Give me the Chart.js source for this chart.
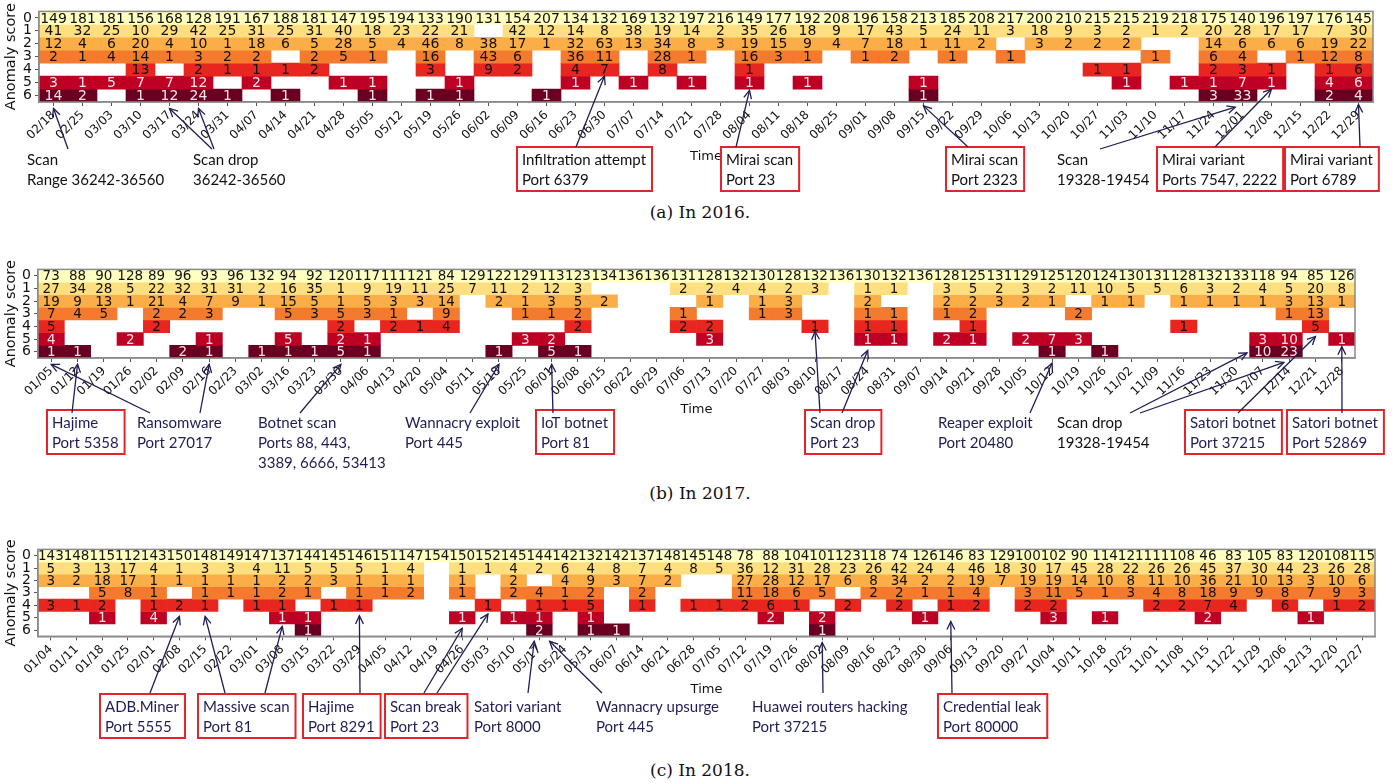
<!DOCTYPE html>
<html>
<head>
<meta charset="utf-8">
<script src="https://cdn.jsdelivr.net/npm/chart.js@4.4.0/dist/chart.umd.min.js"></script>
<style>
  body { margin: 0; background: #fff; width: 1400px; height: 784px; position: relative; overflow: hidden; }
  canvas { position: absolute; left: 0; }
  .cap { position: absolute; left: 0; width: 1400px; text-align: center; font: 17px "DejaVu Serif", serif; color: #111; line-height: 20px; }
</style>
</head>
<body>
<canvas id="c2016" width="1400" height="200" style="top:0px"></canvas>
<div class="cap" style="top:202px">(a) In 2016.</div>
<canvas id="c2017" width="1400" height="215" style="top:258px"></canvas>
<div class="cap" style="top:483px">(b) In 2017.</div>
<canvas id="c2018" width="1400" height="205" style="top:538px"></canvas>
<div class="cap" style="top:760px">(c) In 2018.</div>

<script>
const _ = null

// ---- 2016 ----
const weeks2016 = ["02/18","02/25","03/03","03/10","03/17","03/24","03/31","04/07","04/14","04/21","04/28","05/05","05/12","05/19","05/26","06/02","06/09","06/16","06/23","06/30","07/07","07/14","07/21","07/28","08/04","08/11","08/18","08/25","09/01","09/08","09/15","09/22","09/29","10/06","10/13","10/20","10/27","11/03","11/10","11/17","11/24","12/01","12/08","12/15","12/22","12/29"]
const y16s0 = [149,181,181,156,168,128,191,167,188,181,147,195,194,133,190,131,154,207,134,132,169,132,197,216,149,177,192,208,196,158,213,185,208,217,200,210,215,215,219,218,175,140,196,197,176,145]
const y16s1 = [41,32,25,10,29,42,25,31,25,31,40,18,23,22,21,_,42,12,14,8,38,19,14,2,35,26,18,9,17,43,5,24,11,3,18,9,3,2,1,2,20,28,17,17,7,30]
const y16s2 = [12,4,6,20,4,10,1,18,6,5,28,5,4,46,8,38,17,1,32,63,13,34,8,3,19,15,9,4,7,18,1,11,2,_,3,2,2,2,_,_,14,6,6,6,19,22]
const y16s3 = [2,1,4,14,1,3,2,2,_,2,5,1,_,16,_,43,6,_,36,11,_,28,1,_,16,3,1,_,1,2,_,1,_,1,_,_,_,_,1,_,6,4,_,1,12,8]
const y16s4 = [_,_,_,13,_,2,1,1,1,2,_,_,_,3,_,9,2,_,4,7,_,8,_,_,1,_,_,_,_,_,_,_,_,_,_,_,1,1,_,_,2,3,1,_,1,6]
const y16s5 = [3,1,5,7,7,12,_,2,_,_,1,1,_,_,1,_,_,_,1,_,1,_,1,_,1,_,1,_,_,_,1,_,_,_,_,_,_,1,_,1,1,7,1,_,4,6]
const y16s6 = [14,2,_,1,12,24,1,_,1,_,_,1,_,1,1,_,_,1,_,_,_,_,_,_,_,_,_,_,_,_,1,_,_,_,_,_,_,_,_,_,3,33,_,_,2,4]

// ---- 2017 ----
const weeks2017 = ["01/05","01/12","01/19","01/26","02/02","02/09","02/16","02/23","03/02","03/16","03/23","03/30","04/06","04/13","04/20","05/04","05/11","05/18","05/25","06/01","06/08","06/15","06/22","06/29","07/06","07/13","07/20","07/27","08/03","08/10","08/17","08/24","08/31","09/07","09/14","09/21","09/28","10/05","10/12","10/19","10/26","11/02","11/09","11/16","11/23","11/30","12/07","12/14","12/21","12/28"]
const y17s0 = [73,88,90,128,89,96,93,96,132,94,92,120,117,111,121,84,129,122,129,113,123,134,136,136,131,128,132,130,128,132,136,130,132,136,128,125,131,129,125,120,124,130,131,128,132,133,118,94,85,126]
const y17s1 = [27,34,28,5,22,32,31,31,2,16,35,1,9,19,11,25,7,11,2,12,3,_,_,_,2,2,4,4,2,3,_,1,1,_,3,5,2,3,2,11,10,5,5,6,3,2,4,5,20,8]
const y17s2 = [19,9,13,1,21,4,7,9,1,15,5,1,5,3,3,14,_,2,1,3,5,2,_,_,_,1,_,1,3,_,_,2,_,_,2,2,3,2,1,_,1,1,_,1,1,1,1,3,13,1]
const y17s3 = [7,4,5,_,2,2,3,_,_,5,3,5,3,1,_,9,_,_,1,1,2,_,_,_,1,_,_,1,3,_,_,1,1,_,1,2,_,_,_,2,_,_,_,_,_,_,_,1,13,_]
const y17s4 = [5,_,_,_,2,_,_,_,_,_,_,2,_,2,1,4,_,_,_,_,2,_,_,_,2,2,_,_,_,1,_,1,1,_,_,1,_,_,_,_,_,_,_,1,_,_,_,_,5,_]
const y17s5 = [4,_,_,2,_,_,1,_,_,5,_,2,1,_,_,_,_,_,3,2,_,_,_,_,_,3,_,_,_,_,_,1,1,_,2,1,_,2,7,3,_,_,_,_,_,_,3,10,_,1]
const y17s6 = [1,1,_,_,_,2,1,_,1,1,1,5,1,_,_,_,_,1,_,5,1,_,_,_,_,_,_,_,_,_,_,_,_,_,_,_,_,_,1,_,1,_,_,_,_,_,10,23,_,_]

// ---- 2018 ----
const weeks2018 = ["01/04","01/11","01/18","01/25","02/01","02/08","02/15","02/22","03/01","03/08","03/15","03/22","03/29","04/05","04/12","04/19","04/26","05/03","05/10","05/17","05/24","05/31","06/07","06/14","06/21","06/28","07/05","07/12","07/19","07/26","08/02","08/09","08/16","08/23","08/30","09/06","09/13","09/20","09/27","10/04","10/11","10/18","10/25","11/01","11/08","11/15","11/22","11/29","12/06","12/13","12/20","12/27"]
const y18s0 = [143,148,115,112,143,150,148,149,147,137,144,145,146,151,147,154,150,152,145,144,142,132,142,137,148,145,148,78,88,104,101,123,118,74,126,146,83,129,100,102,90,114,121,111,108,46,83,105,83,120,108,115]
const y18s1 = [5,3,13,17,4,1,3,3,4,11,5,5,5,1,4,_,1,1,4,2,6,4,8,7,4,8,5,36,12,31,28,23,26,42,24,4,46,18,30,17,45,28,22,26,26,45,37,30,44,23,26,28]
const y18s2 = [3,2,18,17,1,1,1,1,1,2,2,3,1,1,1,_,1,_,2,_,4,9,3,7,2,_,_,27,28,12,17,6,8,34,2,2,19,7,19,19,14,10,8,11,10,36,21,10,13,3,10,6]
const y18s3 = [_,_,5,8,1,_,1,1,1,2,1,_,1,1,2,_,1,_,2,4,1,2,_,2,_,_,_,11,18,6,5,_,2,2,1,1,4,_,3,11,5,1,3,4,8,18,9,9,8,7,9,3]
const y18s4 = [3,1,2,_,1,2,1,_,1,1,_,1,1,_,_,_,_,1,_,1,1,5,_,1,_,1,1,2,6,1,_,2,_,2,_,1,2,_,2,2,_,_,_,2,2,7,4,_,6,_,1,2]
const y18s5 = [_,_,1,_,4,_,_,_,_,1,1,_,_,_,_,_,1,_,1,1,_,1,_,_,_,_,_,_,2,_,2,_,_,_,1,_,_,_,_,3,_,1,_,_,_,2,_,_,_,1,_,_]
const y18s6 = [_,_,_,_,_,_,_,_,_,_,1,_,_,_,_,_,_,_,_,2,_,1,1,_,_,_,_,_,_,_,1,_,_,_,_,_,_,_,_,_,_,_,_,_,_,_,_,_,_,_,_,_]

const scoreColors = ["#ffffbf", "#fedf80", "#fbad47", "#f47a2d", "#e7271f", "#bd0024", "#6a0021"]
const scoreInk = ["#111", "#111", "#111", "#111", "#111", "#f6e4e8", "#f6e4e8"]
const navy = "#1e1e55"
const black = "#111"
const boxRed = "#e3242b"

Chart.defaults.font.family = "'DejaVu Sans', sans-serif"
Chart.defaults.color = "#111"

function drawArrow(ctx, x0, y0, x1, y1, color) {
  ctx.save()
  ctx.strokeStyle = color
  ctx.lineWidth = 1.3
  ctx.beginPath()
  ctx.moveTo(x0, y0)
  ctx.lineTo(x1, y1)
  ctx.stroke()
  const a = Math.atan2(y1 - y0, x1 - x0)
  ctx.beginPath()
  ctx.moveTo(x1 - 9 * Math.cos(a - 0.45), y1 - 9 * Math.sin(a - 0.45))
  ctx.lineTo(x1, y1)
  ctx.lineTo(x1 - 9 * Math.cos(a + 0.45), y1 - 9 * Math.sin(a + 0.45))
  ctx.stroke()
  ctx.restore()
}

function heatmap(id, weeks, rows, area, timeY, cellFont, notes) {
  const canvas = document.getElementById(id)
  const H = canvas.height
  const XH = 50

  const overlay = {
    id: "overlay",
    afterDatasetsDraw(chart) {
      const { ctx, scales: { x, y } } = chart
      ctx.save()
      ctx.font = cellFont + "px 'DejaVu Sans'"
      ctx.textAlign = "center"
      ctx.textBaseline = "middle"
      rows.forEach((vals, s) => {
        ctx.fillStyle = scoreInk[s]
        vals.forEach((v, i) => {
          if (v == null) return
          ctx.fillText(String(v), x.getPixelForValue(i), y.getPixelForValue(s) + 1)
        })
      })
      ctx.restore()
    },
    afterDraw(chart) {
      const { ctx, chartArea: ca, scales: { x, y } } = chart
      ctx.save()
      ctx.strokeStyle = "#8a8a8a"
      ctx.lineWidth = 1.5
      ctx.strokeRect(ca.left, ca.top, ca.right - ca.left, ca.bottom - ca.top)

      ctx.fillStyle = "#111"
      ctx.font = "14.5px 'DejaVu Sans'"
      ctx.textAlign = "center"
      ctx.textBaseline = "middle"
      ctx.save()
      ctx.translate(11, (ca.top + ca.bottom) / 2)
      ctx.rotate(-Math.PI / 2)
      ctx.fillText("Anomaly score", 0, 0)
      ctx.restore()
      ctx.font = "13px 'DejaVu Sans'"
      ctx.fillText("Time", (ca.left + ca.right) / 2, timeY)

      ctx.font = "15px Lato"
      ctx.textAlign = "left"
      notes.forEach(n => {
        const [tx, ty] = n.at
        ctx.fillStyle = n.color
        let w = 0
        n.text.forEach((line, k) => {
          ctx.fillText(line, tx, ty + k * 20)
          w = Math.max(w, ctx.measureText(line).width)
        })
        if (n.boxed) {
          ctx.strokeStyle = boxRed
          ctx.lineWidth = 2
          ctx.strokeRect(tx - 5, ty - 13, w + 11, 20 * (n.text.length - 1) + 24)
        }
        n.arrows.forEach(a => {
          drawArrow(ctx, a.from[0], a.from[1], x.getPixelForValue(a.to[0]), y.getPixelForValue(a.to[1]), navy)
        })
      })
      ctx.restore()
    }
  }

  return new Chart(canvas.getContext("2d"), {
    type: "bar",
    data: {
      labels: weeks,
      datasets: rows.map((vals, s) => ({
        label: "Score " + s,
        data: vals.map(v => (v == null ? null : [s - 0.5, s + 0.5])),
        backgroundColor: scoreColors[s],
        borderWidth: 0,
        grouped: false,
        barPercentage: 1,
        categoryPercentage: 1
      }))
    },
    options: {
      responsive: false,
      animation: false,
      devicePixelRatio: 1,
      layout: {
        padding: { left: 0, right: 1400 - area.right, top: area.top, bottom: H - area.bottom - XH }
      },
      plugins: { legend: { display: false }, tooltip: { enabled: false } },
      scales: {
        x: {
          type: "category",
          offset: true,
          grid: { display: true, drawOnChartArea: false, offset: false, tickLength: 4, color: "#555" },
          border: { display: true, color: "#8a8a8a", width: 1.5 },
          ticks: { minRotation: 45, maxRotation: 45, autoSkip: false, font: { size: 12 }, color: "#111", padding: 2 },
          afterFit: (s) => { s.height = XH }
        },
        y: {
          type: "linear",
          reverse: true,
          min: -0.5,
          max: 6.5,
          afterBuildTicks: (s) => { s.ticks = [0, 1, 2, 3, 4, 5, 6].map(v => ({ value: v })) },
          grid: { display: true, drawOnChartArea: false, tickLength: 4, color: "#555" },
          border: { display: true, color: "#8a8a8a", width: 1.5 },
          ticks: { autoSkip: false, font: { size: 14 }, color: "#111", padding: 3 },
          afterFit: (s) => { s.width = area.left }
        }
      }
    },
    plugins: [overlay]
  })
}

heatmap("c2016", weeks2016, [y16s0, y16s1, y16s2, y16s3, y16s4, y16s5, y16s6],
  { left: 39, right: 1373, top: 1, bottom: 102 }, 157, 14, [
  { text: ["Scan", "Range 36242-36560"], at: [27, 160], color: black, arrows: [{ from: [68, 149], to: [0, 7.0] }] },
  { text: ["Scan drop", "36242-36560"], at: [193, 160], color: black, arrows: [{ from: [212, 149], to: [4, 7.0] }, { from: [214, 149], to: [5, 7.0] }] },
  { text: ["Infiltration attempt", "Port 6379"], at: [522, 160], color: black, boxed: true, arrows: [{ from: [576, 147], to: [19, 4.5] }] },
  { text: ["Mirai scan", "Port 23"], at: [726, 160], color: black, boxed: true, arrows: [{ from: [736, 147], to: [24, 5.6] }] },
  { text: ["Mirai scan", "Port 2323"], at: [951, 160], color: black, boxed: true, arrows: [{ from: [968, 147], to: [30, 6.8] }] },
  { text: ["Scan", "19328-19454"], at: [1057, 160], color: black, arrows: [{ from: [1100, 149], to: [40.75, 6.9] }] },
  { text: ["Mirai variant", "Ports 7547, 2222"], at: [1162, 160], color: black, boxed: true, arrows: [{ from: [1215, 147], to: [42, 5.5] }] },
  { text: ["Mirai variant", "Port 6789"], at: [1290, 160], color: black, boxed: true, arrows: [{ from: [1360, 147], to: [45, 6.7] }] }
])

heatmap("c2017", weeks2017, [y17s0, y17s1, y17s2, y17s3, y17s4, y17s5, y17s6],
  { left: 38, right: 1355, top: 7.3, bottom: 100 }, 152, 13.5, [
  { text: ["Hajime", "Port 5358"], at: [52, 165], color: navy, boxed: true, arrows: [{ from: [72, 155], to: [1, 7.0] }] },
  { text: ["Ransomware", "Port 27017"], at: [137, 165], color: navy, arrows: [{ from: [150, 155], to: [0, 7.0] }, { from: [200, 155], to: [6, 7.0] }] },
  { text: ["Botnet scan", "Ports 88, 443,", "3389, 6666, 53413"], at: [258, 165], color: navy, arrows: [{ from: [300, 155], to: [11, 7.0] }] },
  { text: ["Wannacry exploit", "Port 445"], at: [405, 165], color: navy, arrows: [{ from: [470, 155], to: [17, 7.0] }] },
  { text: ["IoT botnet", "Port 81"], at: [541, 165], color: navy, boxed: true, arrows: [{ from: [553, 155], to: [19, 7.0] }] },
  { text: ["Scan drop", "Port 23"], at: [810, 165], color: navy, boxed: true, arrows: [{ from: [820, 155], to: [29, 4.4] }, { from: [842, 155], to: [31, 5.9] }] },
  { text: ["Reaper exploit", "Port 20480"], at: [938, 165], color: navy, arrows: [{ from: [1030, 155], to: [38, 6.9] }] },
  { text: ["Scan drop", "19328-19454"], at: [1057, 165], color: black, arrows: [{ from: [1130, 155], to: [45.4, 6.1] }, { from: [1140, 155], to: [46.8, 6.85] }] },
  { text: ["Satori botnet", "Port 37215"], at: [1190, 165], color: navy, boxed: true, arrows: [{ from: [1238, 155], to: [48, 4.8] }] },
  { text: ["Satori botnet", "Port 52869"], at: [1292, 165], color: navy, boxed: true, arrows: [{ from: [1342, 155], to: [49, 5.6] }] }
])

heatmap("c2018", weeks2018, [y18s0, y18s1, y18s2, y18s3, y18s4, y18s5, y18s6],
  { left: 38, right: 1375, top: 8.3, bottom: 98.3 }, 152, 13.5, [
  { text: ["ADB.Miner", "Port 5555"], at: [105, 169], color: navy, boxed: true, arrows: [{ from: [150, 155], to: [5, 4.9] }] },
  { text: ["Massive scan", "Port 81"], at: [203, 169], color: navy, boxed: true, arrows: [{ from: [225, 155], to: [6, 4.9] }, { from: [265, 155], to: [9, 5.7] }] },
  { text: ["Hajime", "Port 8291"], at: [308, 169], color: navy, boxed: true, arrows: [{ from: [360, 155], to: [12, 4.85] }] },
  { text: ["Scan break", "Port 23"], at: [390, 169], color: navy, boxed: true, arrows: [{ from: [424, 155], to: [16, 5.85] }, { from: [437, 155], to: [17, 4.7] }] },
  { text: ["Satori variant", "Port 8000"], at: [474, 169], color: navy, arrows: [{ from: [528, 155], to: [18.8, 6.9] }] },
  { text: ["Wannacry upsurge", "Port 445"], at: [596, 169], color: navy, arrows: [{ from: [602, 155], to: [19.4, 6.9] }] },
  { text: ["Huawei routers hacking", "Port 37215"], at: [752, 169], color: navy, arrows: [{ from: [823, 155], to: [30, 7.0] }] },
  { text: ["Credential leak", "Port 80000"], at: [943, 169], color: navy, boxed: true, arrows: [{ from: [952, 155], to: [35, 5.3] }] }
])
</script>
</body>
</html>
